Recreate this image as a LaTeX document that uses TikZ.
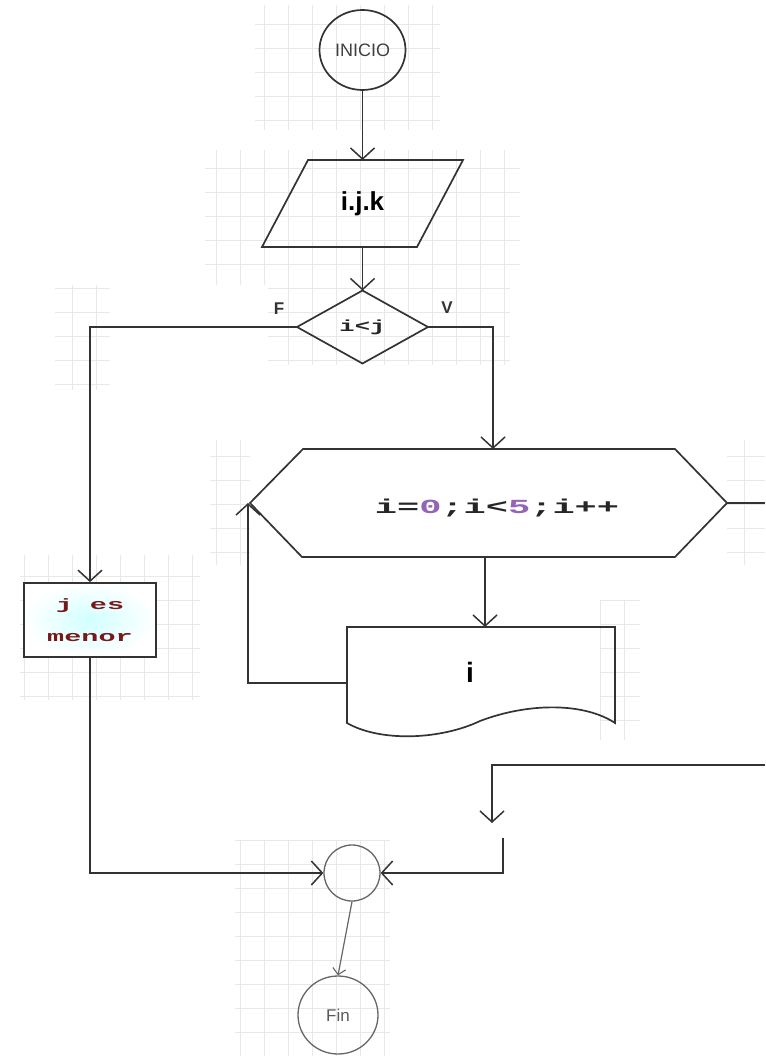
\documentclass[tikz,border=0pt]{standalone}
\usepackage{fontspec}
\usetikzlibrary{arrows.meta,shapes.geometric}
\newfontfamily\arialf{Liberation Sans}
\newfontfamily\codeA[FakeStretch=1.85]{Liberation Mono}
\newfontfamily\codeB[FakeStretch=1.6]{Liberation Mono}
\newfontfamily\codeC[FakeStretch=1.9]{Liberation Mono}
\definecolor{lncol}{rgb}{0.2,0.2,0.2}
\definecolor{purp}{RGB}{150,100,180}
\definecolor{maroonc}{RGB}{120,25,25}
\begin{document}
\begin{tikzpicture}[x=1pt,y=-1pt,
  ln/.style={line width=1.7pt, draw=lncol},
  arr/.style={ln, -{Straight Barb[length=11pt,width=24pt,line width=1.5pt]}},
  smallarr/.style={line width=1.2pt, draw=black!60, -{Straight Barb[length=6pt,width=13pt,line width=1.1pt]}},
  hold/.style={inner sep=0pt, outer sep=0pt},
  faint/.style={draw=black!9, line width=0.6pt}]
\useasboundingbox (0,0) rectangle (765,1056);
% faint background grid patches
\draw[faint, step=24pt] (255,130) grid (440,5);
\draw[faint, step=24pt] (205,285) grid (520,150);
\draw[faint, step=24pt] (268,365) grid (510,285);
\draw[faint, step=24pt] (55,390) grid (110,285);
\draw[faint, step=24pt] (210,565) grid (250,440);
\draw[faint, step=24pt] (727,565) grid (765,440);
\draw[faint, step=24pt] (20,700) grid (200,555);
\draw[faint, step=24pt] (600,740) grid (640,600);
\draw[faint, step=24pt] (235,1056) grid (390,840);
% shapes
\node[ln, draw, ellipse, minimum width=86pt, minimum height=80pt, inner sep=0pt,
  font=\arialf\fontsize{18}{20}\selectfont, text=black!75] (inicio) at (362.5,50) {INICIO};
\node[hold, minimum width=201pt, minimum height=87pt,
  font=\arialf\bfseries\fontsize{26}{28}\selectfont] (io) at (362.5,203.5) {i.j.k};
\draw[ln] (308,160) -- (463,160) -- (417,247) -- (262,247) -- cycle;
\node[hold, minimum width=131pt, minimum height=73pt,
  font=\codeB\bfseries\fontsize{16}{18}\selectfont, text=black!85] (dec) at (362.5,327) {i<j};
\draw[ln] (dec.north) -- (dec.east) -- (dec.south) -- (dec.west) -- cycle;
\node[font=\arialf\bfseries\fontsize{17}{18}\selectfont, text=black!80] (F) at (279,309) {F};
\node[font=\arialf\bfseries\fontsize{17}{18}\selectfont, text=black!80] (V) at (447,308) {V};
\node[hold, minimum width=477pt, minimum height=108pt] (loop) at (488.5,503) {};
\draw[ln] (loop.west) -- (303,449) -- (675,449) -- (loop.east) -- (675,557) -- (302,557) -- cycle;
\node[font=\codeA\bfseries\fontsize{20}{22}\selectfont, text=black!85] (looptxt) at (497,508)
  {i=\textcolor{purp}{0};i<\textcolor{purp}{5};i++};
\node[hold, minimum width=268pt, minimum height=90pt] (doc) at (481,672) {};
\draw[ln] (347,627) -- (615,627) -- (615,723) .. controls (585,703) and (530,702) .. (480,721)
  .. controls (440,740) and (380,742) .. (347,723) -- cycle;
\node[font=\arialf\bfseries\fontsize{28}{30}\selectfont] (doctxt) at (470,672) {i};
\node[draw=lncol, line width=1.7pt, minimum width=132pt, minimum height=74pt,
  inner color=cyan!18, outer color=white, align=center,
  font=\codeC\bfseries\fontsize{15}{32}\selectfont, text=maroonc] (menor) at (90,620) {j es\\menor};
\node[draw=black!60, line width=1.3pt, circle, minimum size=56pt] (con) at (352,873) {};
\node[draw=black!60, line width=1.3pt, ellipse, minimum width=80pt, minimum height=78pt,
  font=\arialf\fontsize{17}{18}\selectfont, text=black!65] (fin) at (338,1015) {Fin};
% free ends
\coordinate (r1) at (765,503);
\coordinate (r2) at (765,765);
\coordinate (m1) at (492,823);
\coordinate (m2) at (503,838);
% connectors
\draw[arr] (inicio) -- (io.north);
\draw[arr] (io.south) -- (dec.north);
\draw[arr] (dec.west) -| (menor.north);
\draw[arr] (dec.east) -| ([xshift=4.5pt]loop.north);
\draw[arr] ([xshift=-3.5pt]loop.south) -- ([xshift=-3.5pt]loop.south |- doc.north);
\draw[arr] ([yshift=-11pt]doc.west) -| ([xshift=-2pt]loop.west);
\draw[ln] (loop.east) -- (r1);
\draw[arr] (r2) -| (m1);
\draw[arr] (m2) |- (con.east);
\draw[arr] (menor.south) |- (con.west);
\draw[smallarr] (con.south) -- (fin.north);
\end{tikzpicture}
\end{document}
